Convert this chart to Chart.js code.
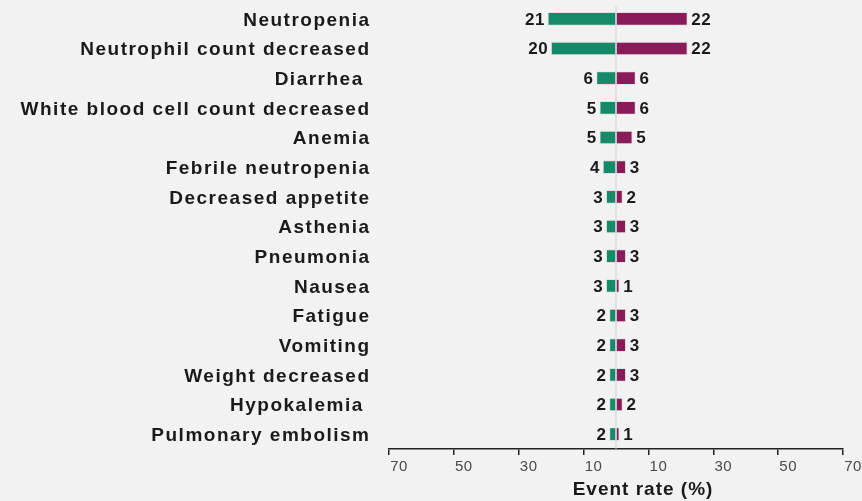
<!DOCTYPE html>
<html>
<head>
<meta charset="utf-8">
<script src="https://cdn.jsdelivr.net/npm/chart.js@4/dist/chart.umd.min.js"></script>
<style>
  body { margin: 0; background: #f2f2f2; }
  #wrap { width: 862px; height: 501px; }
</style>
</head>
<body>
<div id="wrap"><canvas id="chart" width="862" height="501"></canvas></div>
<script>
// adverse events, top to bottom
const events = [
  "Neutropenia", "Neutrophil count decreased", "Diarrhea ", "White blood cell count decreased",
  "Anemia", "Febrile neutropenia", "Decreased appetite", "Asthenia", "Pneumonia", "Nausea",
  "Fatigue", "Vomiting", "Weight decreased", "Hypokalemia ", "Pulmonary embolism"
];
const leftRates  = [21, 20, 6, 5, 5, 4, 3, 3, 3, 3, 2, 2, 2, 2, 2];
const rightRates = [22, 22, 6, 6, 5, 3, 2, 3, 3, 1, 3, 3, 3, 2, 1];
const xTicks = [-70, -50, -30, -10, 10, 30, 50, 70];

const FONT = '"Liberation Sans", Arial, sans-serif';

// value labels, zero line, axis title, letter spacing
const extras = {
  id: "extras",
  beforeLayout(chart) { chart.ctx.letterSpacing = "0.5px"; },
  beforeDraw(chart) {
    const ctx = chart.ctx;
    ctx.save();
    ctx.fillStyle = "#f2f2f2";
    ctx.fillRect(0, 0, chart.width, chart.height);
    ctx.restore();
    ctx.letterSpacing = "0.5px";
  },
  afterDatasetsDraw(chart) {
    const ctx = chart.ctx;
    const x0 = chart.scales.x.getPixelForValue(0);
    ctx.save();
    ctx.strokeStyle = "#cfcfcf";
    ctx.lineWidth = 1;
    ctx.beginPath();
    ctx.moveTo(x0, chart.chartArea.top + 2);
    ctx.lineTo(x0, chart.chartArea.bottom);
    ctx.stroke();

    ctx.font = "bold 17px " + FONT;
    ctx.fillStyle = "#1a1a1a";
    ctx.textBaseline = "middle";
    ctx.letterSpacing = "0.5px";
    chart.getDatasetMeta(0).data.forEach((bar, i) => {
      ctx.textAlign = "right";
      ctx.fillText(String(leftRates[i]), bar.x - 3, bar.y + 1);
    });
    chart.getDatasetMeta(1).data.forEach((bar, i) => {
      ctx.textAlign = "left";
      ctx.fillText(String(rightRates[i]), bar.x + 4, bar.y + 1);
    });
    ctx.restore();
    // y tick labels are drawn after this (ticks z: 1)
    ctx.letterSpacing = "1.5px";
  },
  afterDraw(chart) {
    const ctx = chart.ctx;
    const a = chart.chartArea;
    ctx.save();
    ctx.letterSpacing = "1px";
    ctx.font = "bold 19px " + FONT;
    ctx.fillStyle = "#1a1a1a";
    ctx.textAlign = "center";
    ctx.textBaseline = "middle";
    ctx.fillText("Event rate (%)", (a.left + a.right) / 2 + 27, 490);
    ctx.restore();
  }
};

new Chart(document.getElementById("chart"), {
  type: "bar",
  data: {
    labels: events,
    datasets: [
      {
        data: leftRates.map(v => -v),
        backgroundColor: "#158a69",
        borderColor: "rgba(225,225,225,0.9)",
        borderWidth: 1,
        borderSkipped: false,
        barThickness: 13
      },
      {
        data: rightRates,
        backgroundColor: "#8a1b5a",
        borderColor: "rgba(225,225,225,0.9)",
        borderWidth: 1,
        borderSkipped: false,
        barThickness: 13
      }
    ]
  },
  options: {
    indexAxis: "y",
    responsive: false,
    animation: false,
    layout: { padding: { top: 4, right: 19, left: 0, bottom: 0 } },
    plugins: { legend: { display: false }, tooltip: { enabled: false } },
    scales: {
      x: {
        min: -70,
        max: 70,
        afterBuildTicks: s => { s.ticks = xTicks.map(v => ({ value: v })); },
        afterFit: s => { s.height = 52; s.paddingLeft = 0; s.paddingRight = 0; },
        grid: { drawOnChartArea: false, drawTicks: true, tickLength: 6, color: "#222", lineWidth: 1.5 },
        border: { display: true, color: "#222", width: 1.5 },
        ticks: {
          callback: v => Math.abs(v),
          font: { family: FONT, size: 15 },
          color: "#4a4a4a",
          padding: 3,
          labelOffset: 10,
          maxRotation: 0,
          autoSkip: false
        }
      },
      y: {
        stacked: true,
        afterFit: s => { s.width = 389; s.paddingTop = 0; s.paddingBottom = 0; },
        grid: { display: false, drawTicks: false },
        border: { display: false },
        ticks: {
          z: 1,
          font: { family: FONT, size: 19, weight: "bold" },
          color: "#1a1a1a",
          padding: 18.5,
          labelOffset: 1.5,
          autoSkip: false
        }
      }
    }
  },
  plugins: [extras]
});
</script>
</body>
</html>
